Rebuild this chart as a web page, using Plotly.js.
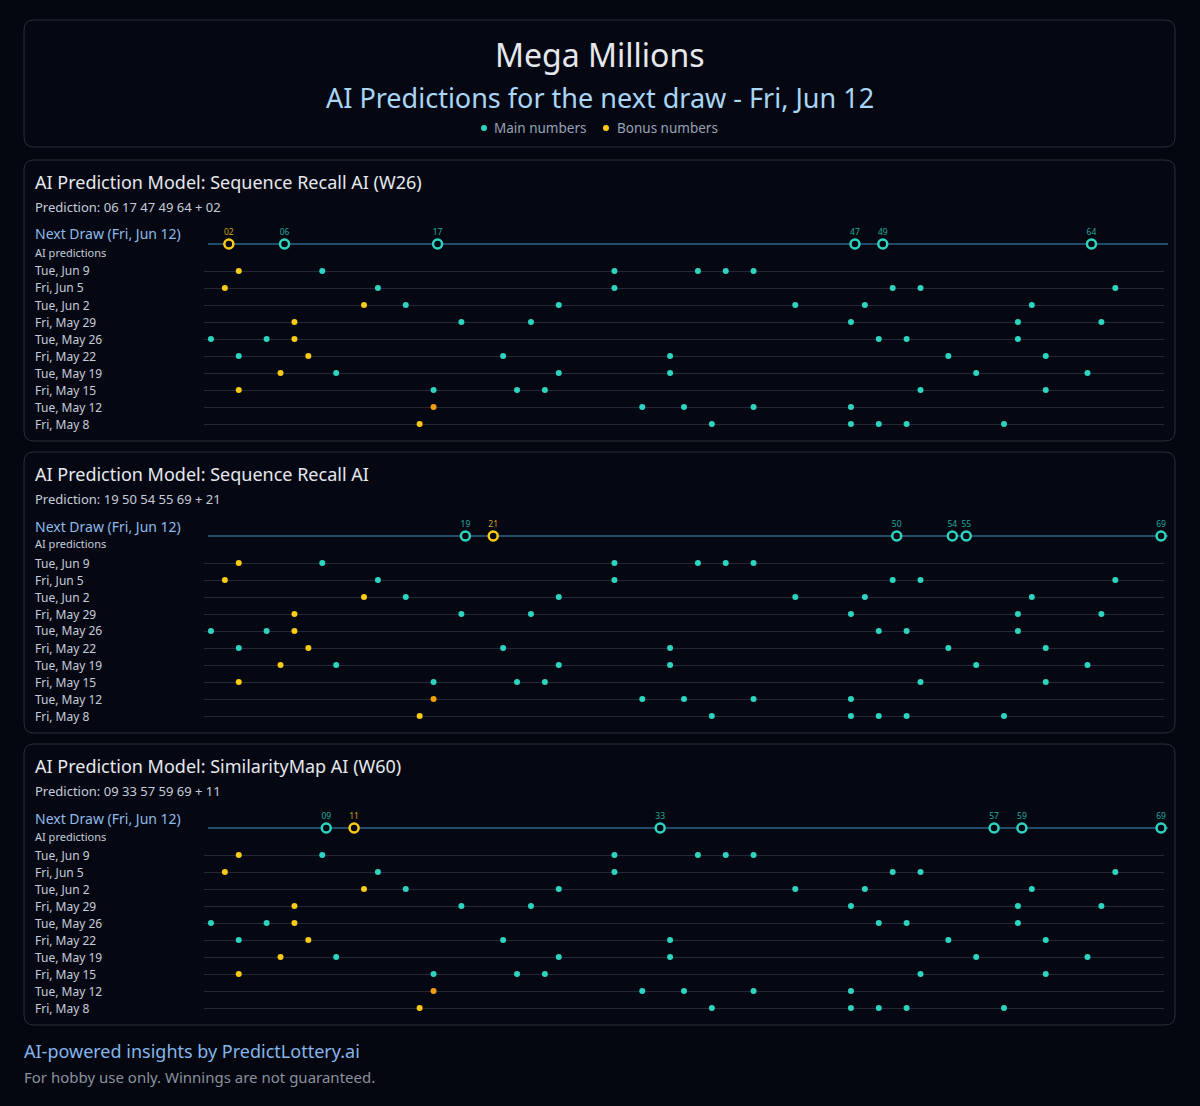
<!DOCTYPE html>
<html>
<head>
<meta charset="utf-8">
<script src="https://cdn.plot.ly/plotly-3.0.1.min.js"></script>
<style>
  html, body { margin: 0; padding: 0; background: #04070f; }
  #chart { width: 1200px; height: 1106px; }
</style>
</head>
<body>
<div id="chart"></div>
<script>
// ---------------- DATA ----------------
const lotteryName = 'Mega Millions';
const nextDrawLabel = 'Fri, Jun 12';
const drawDates = ['Tue, Jun 9', 'Fri, Jun 5', 'Tue, Jun 2', 'Fri, May 29', 'Tue, May 26',
                   'Fri, May 22', 'Tue, May 19', 'Fri, May 15', 'Tue, May 12', 'Fri, May 8'];
const mainNumbers = [
  [9, 30, 36, 38, 40],
  [13, 30, 50, 52, 66],
  [15, 26, 43, 48, 60],
  [19, 24, 47, 59, 65],
  [1, 5, 49, 51, 59],
  [3, 22, 34, 54, 61],
  [10, 26, 34, 56, 64],
  [17, 23, 25, 52, 61],
  [17, 32, 35, 40, 47],
  [37, 47, 49, 51, 58]
];
const bonusNumbers = [3, 2, 12, 7, 7, 8, 6, 3, 17, 16];
const modelNames = ['Sequence Recall AI (W26)', 'Sequence Recall AI', 'SimilarityMap AI (W60)'];
const predMain = [
  [6, 17, 47, 49, 64],
  [19, 50, 54, 55, 69],
  [9, 33, 57, 59, 69]
];
const predBonus = [2, 21, 11];
const legendLabels = ['Main numbers', 'Bonus numbers'];

// ---------------- STYLE ----------------
const W = 1200, H = 1106;
const FONT = 'Noto Sans, Open Sans, sans-serif';
const C_BG = '#04070f', C_PANEL = '#050813', C_BORDER = '#2a2f3c';
const C_MAIN = '#2dd4bf', C_BONUS = '#facc15', C_BOTH = '#f59e0b';
const C_MAIN_TXT = '#22a899', C_BONUS_TXT = '#c9a21a';
const px = x => x / W;
const py = y => 1 - y / H;

function roundRect(x0, y0, x1, y1, r) {
  const rx = r / W, ry = r / H;
  const L = px(x0), R = px(x1), T = py(y0), B = py(y1);
  return `M ${L + rx},${T} L ${R - rx},${T} Q ${R},${T} ${R},${T - ry} L ${R},${B + ry} Q ${R},${B} ${R - rx},${B} L ${L + rx},${B} Q ${L},${B} ${L},${B + ry} L ${L},${T - ry} Q ${L},${T} ${L + rx},${T} Z`;
}

const traces = [];
const layout = {
  width: W, height: H,
  margin: {l: 0, r: 0, t: 0, b: 0},
  paper_bgcolor: C_BG, plot_bgcolor: 'rgba(0,0,0,0)',
  font: {family: FONT, color: '#c9d1d9'},
  showlegend: false,
  shapes: [], annotations: []
};

function ann(text, x, y, size, color, anchor) {
  const a = anchor || 'left';
  layout.annotations.push({
    text: text, xref: 'paper', yref: 'paper', x: px(a === 'left' ? x - 2 : x), y: py(y),
    xanchor: a, yanchor: 'middle', showarrow: false,
    font: {size: size, color: color, family: FONT}
  });
}
function dot(x, y, r, color) {
  layout.shapes.push({type: 'circle', xref: 'paper', yref: 'paper',
    x0: px(x - r), x1: px(x + r), y0: py(y + r), y1: py(y - r),
    fillcolor: color, line: {width: 0}});
}

// Header
layout.shapes.push({type: 'path', path: roundRect(24, 20, 1175, 147, 10), xref: 'paper', yref: 'paper',
  fillcolor: C_PANEL, line: {color: C_BORDER, width: 1}, layer: 'below'});
ann(lotteryName, 600, 54, 32, '#e6e8ee', 'center');
ann('AI Predictions for the next draw - ' + nextDrawLabel, 600, 97, 27, '#a9d6f5', 'center');
dot(484, 128, 3, C_MAIN);
ann(legendLabels[0], 494, 128, 13.5, '#98a2b3');
dot(606, 128, 3, C_BONUS);
ann(legendLabels[1], 617, 128, 13.5, '#98a2b3');

// Panels
const PANEL_STEP = 292;
for (let p = 0; p < modelNames.length; p++) {
  const dy = PANEL_STEP * p;
  const hx = 2 * p + 1, px2 = 2 * p + 2;          // axis numbers: history, prediction
  const hxName = hx === 1 ? 'xaxis' : 'xaxis' + hx;
  const hyName = hx === 1 ? 'yaxis' : 'yaxis' + hx;
  const hxRef = hx === 1 ? 'x' : 'x' + hx;
  const hyRef = hx === 1 ? 'y' : 'y' + hx;
  const pxName = 'xaxis' + px2, pyName = 'yaxis' + px2;
  const pxRef = 'x' + px2, pyRef = 'y' + px2;

  layout.shapes.push({type: 'path', path: roundRect(24, 160 + dy, 1175, 441 + dy, 10), xref: 'paper', yref: 'paper',
    fillcolor: C_PANEL, line: {color: C_BORDER, width: 1}, layer: 'below'});

  ann('AI Prediction Model: ' + modelNames[p], 35, 182 + dy, 18, '#e6e8ee');
  const pm = predMain[p].map(n => String(n).padStart(2, '0')).join(' ');
  ann('Prediction: ' + pm + ' + ' + String(predBonus[p]).padStart(2, '0'), 35, 207 + dy, 13, '#c5cdd9');
  ann('Next Draw (' + nextDrawLabel + ')', 35, 234 + dy, 14, '#8fbbe8');
  ann('AI predictions', 35, 252 + dy, 11, '#c5cdd9');
  drawDates.forEach((d, i) => ann(d, 35, 271 + 17 * i + dy, 12, '#c5cdd9'));

  // History axes
  layout[hxName] = {domain: [px(204), px(1164)], range: [0.5, 69.5], visible: false, fixedrange: true, anchor: hyRef};
  layout[hyName] = {domain: [py(432.5 + dy), py(262.5 + dy)], range: [9.5, -0.5], anchor: hxRef,
    showgrid: true, tick0: 0, dtick: 1, gridcolor: '#232836', gridwidth: 1, zeroline: false,
    showticklabels: false, ticks: '', showline: false, fixedrange: true};
  // Prediction axes
  layout[pxName] = {domain: [px(208), px(1168)], range: [0.5, 69.5], visible: false, fixedrange: true, anchor: pyRef};
  layout[pyName] = {domain: [py(254 + dy), py(234 + dy)], range: [-1, 1], anchor: pxRef,
    showgrid: false, zeroline: true, zerolinecolor: '#1f4c66', zerolinewidth: 1.5,
    showticklabels: false, ticks: '', fixedrange: true};

  // History traces
  const mx = [], my = [], bx = [], by = [], ox = [], oy = [];
  drawDates.forEach((d, i) => {
    mainNumbers[i].forEach(n => {
      if (n === bonusNumbers[i]) { ox.push(n); oy.push(i); }
      else { mx.push(n); my.push(i); }
    });
    if (!mainNumbers[i].includes(bonusNumbers[i])) { bx.push(bonusNumbers[i]); by.push(i); }
  });
  traces.push({type: 'scatter', mode: 'markers', x: mx, y: my, xaxis: hxRef, yaxis: hyRef,
    name: 'Main numbers', cliponaxis: false, hoverinfo: 'x',
    marker: {color: C_MAIN, size: 6}});
  traces.push({type: 'scatter', mode: 'markers', x: bx, y: by, xaxis: hxRef, yaxis: hyRef,
    name: 'Bonus numbers', cliponaxis: false, hoverinfo: 'x',
    marker: {color: C_BONUS, size: 6}});
  traces.push({type: 'scatter', mode: 'markers', x: ox, y: oy, xaxis: hxRef, yaxis: hyRef,
    name: 'Main + bonus', cliponaxis: false, hoverinfo: 'x',
    marker: {color: C_BOTH, size: 6}});

  // Prediction traces
  traces.push({type: 'scatter', mode: 'markers+text', x: predMain[p], y: predMain[p].map(() => 0),
    xaxis: pxRef, yaxis: pyRef, cliponaxis: false, hoverinfo: 'x',
    text: predMain[p].map(n => String(n).padStart(2, '0')), textposition: 'top center',
    textfont: {size: 8.5, color: C_MAIN_TXT, family: FONT},
    marker: {color: C_PANEL, size: 9, line: {color: C_MAIN, width: 2.5}}});
  traces.push({type: 'scatter', mode: 'markers+text', x: [predBonus[p]], y: [0],
    xaxis: pxRef, yaxis: pyRef, cliponaxis: false, hoverinfo: 'x',
    text: [String(predBonus[p]).padStart(2, '0')], textposition: 'top center',
    textfont: {size: 8.5, color: C_BONUS_TXT, family: FONT},
    marker: {color: C_PANEL, size: 9, line: {color: C_BONUS, width: 2.5}}});
}

// Footer
ann('AI-powered insights by PredictLottery.ai', 24, 1051, 18, '#85b6ec');
ann('For hobby use only. Winnings are not guaranteed.', 24, 1077, 15, '#8a919e');

Plotly.newPlot('chart', traces, layout, {displayModeBar: false, staticPlot: true});
</script>
</body>
</html>
